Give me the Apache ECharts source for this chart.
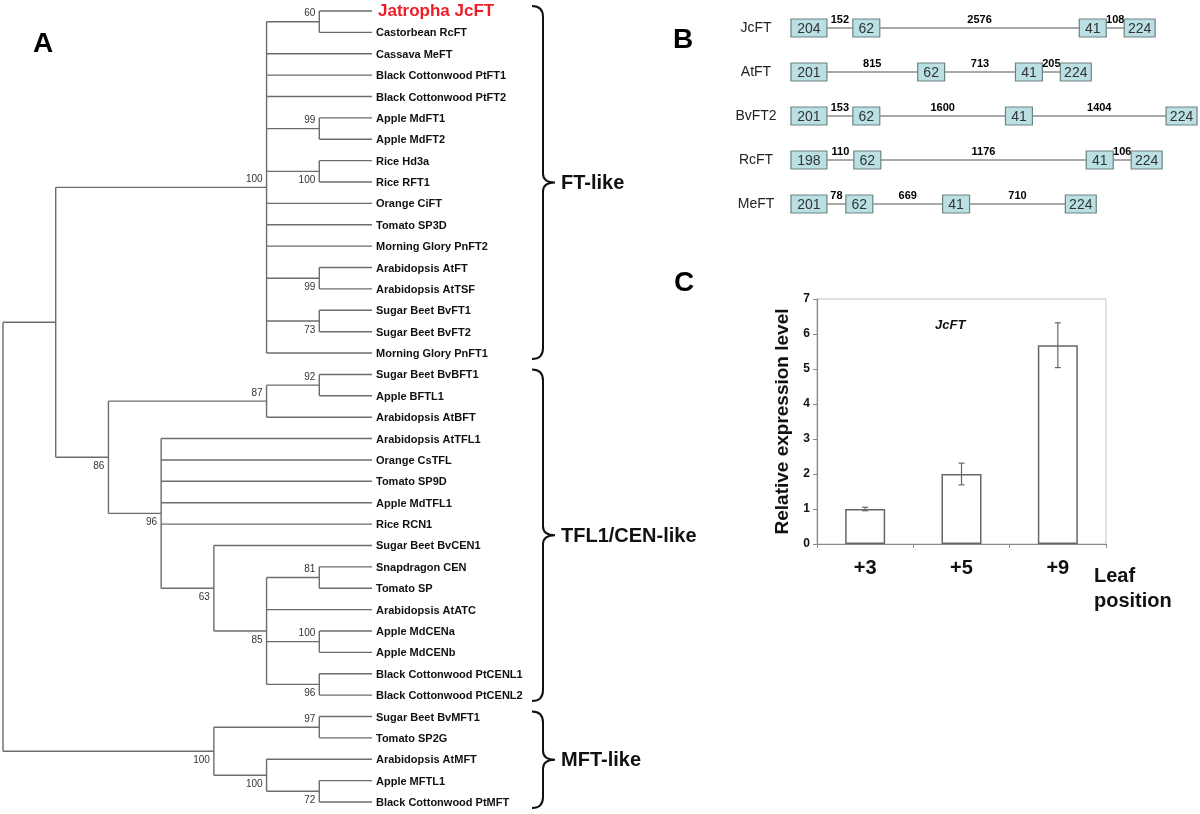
<!DOCTYPE html>
<html><head><meta charset="utf-8">
<script src="https://cdn.jsdelivr.net/npm/echarts/dist/echarts.min.js"></script>
<style>html,body{margin:0;padding:0;background:#fff}#c{width:1200px;height:814px}</style>
</head><body><div id="c"></div><script>
// ---------------- DATA ----------------
// Panel A: phylogenetic tree (Newick, internal labels = bootstrap values)
const treeNewick =
 "(" +
  "(" +
   "((Jatropha JcFT,Castorbean RcFT)60,Cassava MeFT,Black Cottonwood PtFT1,Black Cottonwood PtFT2," +
   "(Apple MdFT1,Apple MdFT2)99,(Rice Hd3a,Rice RFT1)100,Orange CiFT,Tomato SP3D,Morning Glory PnFT2," +
   "(Arabidopsis AtFT,Arabidopsis AtTSF)99,(Sugar Beet BvFT1,Sugar Beet BvFT2)73,Morning Glory PnFT1)100," +
   "(" +
    "((Sugar Beet BvBFT1,Apple BFTL1)92,Arabidopsis AtBFT)87," +
    "(Arabidopsis AtTFL1,Orange CsTFL,Tomato SP9D,Apple MdTFL1,Rice RCN1," +
     "(Sugar Beet BvCEN1,((Snapdragon CEN,Tomato SP)81,Arabidopsis AtATC,(Apple MdCENa,Apple MdCENb)100," +
     "(Black Cottonwood PtCENL1,Black Cottonwood PtCENL2)96)85)63)96" +
   ")86" +
  ")," +
  "((Sugar Beet BvMFT1,Tomato SP2G)97,(Arabidopsis AtMFT,(Apple MFTL1,Black Cottonwood PtMFT)72)100)100" +
 ");";
const highlightLeaf = 'Jatropha JcFT';
const cladeLabels = ['FT-like', 'TFL1/CEN-like', 'MFT-like'];
const cladeSizes = [17, 16, 5];

// Panel B: gene structures (bp)
const geneNames = ['JcFT', 'AtFT', 'BvFT2', 'RcFT', 'MeFT'];
const exonLengths = [[204,62,41,224],[201,62,41,224],[201,62,41,224],[198,62,41,224],[201,62,41,224]];
const intronLengths = [[152,2576,108],[815,713,205],[153,1600,1404],[110,1176,106],[78,669,710]];

// Panel C: expression
const leafPositions = ['+3', '+5', '+9'];
const expression = [1.0, 2.0, 5.68];
const expressionErr = [0.05, 0.31, 0.64];
const yTicks = [0, 7, 1]; // min, max, interval

// ---------------- LAYOUT / STYLE ----------------
const bootPos = ['a','a','b','b','b','a','a','a','a','a','b','b','b','b','b','a','b','b','b'];
const exonDrawWidth = [36, 27, 27, 31];               // schematic (not to scale) drawing widths
const intronDrawWidth = [[26,200,18],[91,71,18],[26,126,134],[27,206,18],[19,70,96]];
const FONT = '"Liberation Sans", Arial, sans-serif';

// ---------------- TREE PARSE ----------------
function parseNewick(str){
  const s = str.replace(/\s*([(),;])\s*/g, '$1');
  let i = 0;
  function readLabel(){ let l=''; while(i<s.length && '(),;'.indexOf(s[i])<0) l+=s[i++]; return l.trim(); }
  function node(){
    if (s[i]==='('){
      i++; const children=[];
      while(true){ children.push(node()); if (s[i]===','){ i++; } else break; }
      i++;
      return {children, boot: readLabel()};
    }
    return {name: readLabel()};
  }
  return node();
}
const root = parseNewick(treeNewick);
const leaves = [], segs = [], boots = [];
function height(n){ return n.children ? 1 + Math.max(...n.children.map(height)) : 0; }
const H = height(root);
function layout(n){
  if (!n.children){ n.y = leaves.length; n.x = H; leaves.push(n.name); return; }
  n.children.forEach(layout);
  n.x = H - height(n);
  const c = n.children;
  n.y = (c[0].y + c[c.length-1].y) / 2;
  segs.push([n.x, c[0].y, n.x, c[c.length-1].y]);
  c.forEach(ch => segs.push([n.x, ch.y, ch.x, ch.y]));
  if (n.boot) boots.push([n.x, n.y, n.boot]);
}
layout(root);
boots.forEach((b,k)=> b.push(bootPos[k] || 'b'));
const cladeRanges = []; { let s=0; cladeSizes.forEach(z=>{ cladeRanges.push([s, s+z-1]); s+=z; }); }

// ---------------- CHART ----------------
const chart = echarts.init(document.getElementById('c'), null, {renderer:'canvas'});
function txt(o){ // text helper for custom series
  return {type:'text', style:Object.assign({textAlign:o.align, align:o.align, textVerticalAlign:o.va||'middle', verticalAlign:o.va||'middle'}, o.style), x:o.x, y:o.y};
}
const option = {
  backgroundColor: '#fff',
  animation: false,
  grid: [
    {left: 3, top: 11, width: 369, height: 791},
    {left: 791, top: 28, width: 410, height: 176},
    {left: 817, top: 299, width: 289, height: 245, show: true, borderColor: '#c4c4c4', borderWidth: 1}
  ],
  xAxis: [
    {gridIndex:0, type:'value', min:0, max:H, show:false},
    {gridIndex:1, type:'value', min:0, max:410, show:false},
    {gridIndex:2, type:'category', data: leafPositions,
     axisLine:{lineStyle:{color:'#8a8a8a', width:1.2}},
     axisTick:{show:true, length:4, lineStyle:{color:'#8a8a8a'}},
     axisLabel:{fontFamily:FONT, fontWeight:'bold', fontSize:20, color:'#111', margin:14},
     name:'Leaf\nposition', nameLocation:'end', nameGap:-12,
     nameTextStyle:{fontFamily:FONT, fontWeight:'bold', fontSize:20, color:'#111', align:'left', verticalAlign:'top', lineHeight:25, padding:[20,0,0,0]}}
  ],
  yAxis: [
    {gridIndex:0, type:'value', min:0, max:leaves.length-1, inverse:true, show:false},
    {gridIndex:1, type:'category', data: geneNames, inverse:true, boundaryGap:false,
     axisLine:{show:false}, axisTick:{show:false}, splitLine:{show:false},
     axisLabel:{fontFamily:FONT, fontSize:14, color:'#222', align:'center', margin:35}},
    {gridIndex:2, type:'value', min:yTicks[0], max:yTicks[1], interval:yTicks[2],
     axisLine:{show:true, lineStyle:{color:'#8a8a8a', width:1.2}},
     axisTick:{show:true, length:4, lineStyle:{color:'#8a8a8a'}},
     splitLine:{show:false},
     axisLabel:{fontFamily:FONT, fontWeight:'bold', fontSize:12, color:'#111', margin:7},
     name:'Relative expression level', nameLocation:'middle', nameGap:25,
     nameTextStyle:{fontFamily:FONT, fontWeight:'bold', fontSize:19, color:'#111'}}
  ],
  series: [
    // tree branches
    {type:'custom', xAxisIndex:0, yAxisIndex:0, silent:true, data: segs,
     renderItem(params, api){
       const s = segs[params.dataIndex];
       const a = api.coord([s[0], s[1]]), b = api.coord([s[2], s[3]]);
       return {type:'line', shape:{x1:a[0], y1:a[1], x2:b[0], y2:b[1]}, style:{stroke:'#6c6c6c', lineWidth:1.4}};
     }},
    // leaf labels
    {type:'custom', xAxisIndex:0, yAxisIndex:0, silent:true, data: leaves.map((n,i)=>[H,i]),
     renderItem(params, api){
       const i = params.dataIndex, name = leaves[i];
       const p = api.coord([H, i]);
       const hl = name === highlightLeaf;
       return txt({x:p[0]+(hl?6:4), y:p[1]+(hl?0:1), align:'left',
         style:{text:name, font:'bold '+(hl?17:11)+'px '+FONT, fill: hl ? '#ee1c25' : '#111'}});
     }},
    // bootstrap values
    {type:'custom', xAxisIndex:0, yAxisIndex:0, silent:true, data: boots.map(b=>[b[0], b[1]]),
     renderItem(params, api){
       const b = boots[params.dataIndex];
       const p = api.coord([b[0], b[1]]);
       return txt({x:p[0]-4, y:p[1] + (b[3]==='a' ? -8 : 9), align:'right',
         style:{text:b[2], font:'10px '+FONT, fill:'#333'}});
     }},
    // clade braces
    {type:'custom', xAxisIndex:0, yAxisIndex:0, silent:true, data: cladeRanges,
     renderItem(params, api){
       const r = cladeRanges[params.dataIndex];
       const p1 = api.coord([H, r[0]]), p2 = api.coord([H, r[1]]);
       const bx = p1[0] + 171, y1 = p1[1] - 5, y2 = p2[1] + 6, ym = (y1 + y2) / 2;
       const d = `M${bx-11},${y1} Q${bx},${y1} ${bx},${y1+11} L${bx},${ym-9} Q${bx},${ym} ${bx+12},${ym} Q${bx},${ym} ${bx},${ym+9} L${bx},${y2-11} Q${bx},${y2} ${bx-11},${y2}`;
       return {type:'group', children:[
         {type:'path', shape:{pathData:d}, style:{stroke:'#111', fill:null, lineWidth:2}},
         txt({x:bx+18, y:ym+1, align:'left', style:{text:cladeLabels[params.dataIndex], font:'bold 20px '+FONT, fill:'#111'}})
       ]};
     }},
    // gene structures
    {type:'custom', xAxisIndex:1, yAxisIndex:1, silent:true, data: geneNames.map((g,i)=>[0,i]),
     renderItem(params, api){
       const g = params.dataIndex, ch = [];
       const ex = exonLengths[g], intr = intronLengths[g], iw = intronDrawWidth[g];
       const yc = api.coord([0, g])[1];
       let pos = 0;
       for (let k = 0; k < ex.length; k++){
         const x0 = api.coord([pos, g])[0], x1 = api.coord([pos + exonDrawWidth[k], g])[0];
         ch.push({type:'rect', shape:{x:x0, y:yc-9, width:x1-x0, height:18}, style:{fill:'#bae0e4', stroke:'#6d8284', lineWidth:1.2}});
         ch.push(txt({x:(x0+x1)/2, y:yc+1, align:'center', style:{text:String(ex[k]), font:'14px '+FONT, fill:'#333'}}));
         pos += exonDrawWidth[k];
         if (k < intr.length){
           const a = api.coord([pos, g])[0], b = api.coord([pos + iw[k], g])[0];
           ch.push({type:'line', shape:{x1:a, y1:yc, x2:b, y2:yc}, style:{stroke:'#8c8c8c', lineWidth:1.5}});
           ch.push(txt({x:(a+b)/2, y:yc-3, align:'center', va:'bottom', style:{text:String(intr[k]), font:'bold 11px '+FONT, fill:'#000'}}));
           pos += iw[k];
         }
       }
       return {type:'group', children:ch};
     }},
    // bars
    {type:'bar', xAxisIndex:2, yAxisIndex:2, data: expression, barWidth:40, silent:true,
     itemStyle:{color:'#fff', borderColor:'#666', borderWidth:1.5}},
    // error bars
    {type:'custom', xAxisIndex:2, yAxisIndex:2, silent:true, z:5,
     data: expression.map((v,i)=>[i, v - expressionErr[i], v + expressionErr[i]]),
     renderItem(params, api){
       const lo = api.coord([api.value(0), api.value(1)]), hi = api.coord([api.value(0), api.value(2)]);
       const x = lo[0], w = 3;
       const st = {stroke:'#666', lineWidth:1.2};
       return {type:'group', children:[
         {type:'line', shape:{x1:x, y1:lo[1], x2:x, y2:hi[1]}, style:st},
         {type:'line', shape:{x1:x-w, y1:lo[1], x2:x+w, y2:lo[1]}, style:st},
         {type:'line', shape:{x1:x-w, y1:hi[1], x2:x+w, y2:hi[1]}, style:st}
       ]};
     }}
  ],
  graphic: [
    {type:'text', left:33, top:30, style:{text:'A', font:'bold 28px '+FONT, fill:'#000'}},
    {type:'text', left:673, top:26, style:{text:'B', font:'bold 28px '+FONT, fill:'#000'}},
    {type:'text', left:674, top:269, style:{text:'C', font:'bold 28px '+FONT, fill:'#000'}},
    {type:'text', left:935, top:319, style:{text:'JcFT', font:'italic bold 13px '+FONT, fill:'#111'}}
  ]
};
chart.setOption(option);
</script></body></html>
